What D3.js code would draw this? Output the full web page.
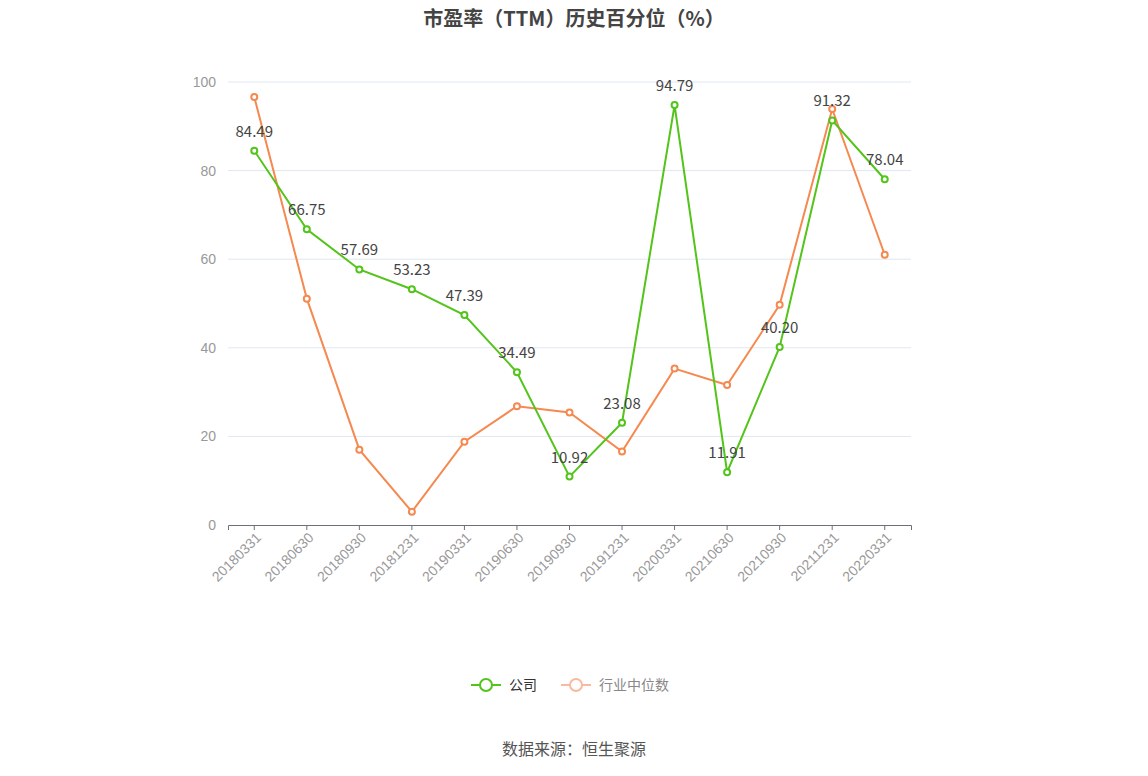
<!DOCTYPE html>
<html><head><meta charset="utf-8">
<script src="https://cdn.jsdelivr.net/npm/d3@7"></script>
<style>body{margin:0;background:#fff;font-family:"Noto Sans CJK SC","Noto Sans",sans-serif;}</style>
</head><body><div id="chart"></div>
<script>
var categories = ["20180331","20180630","20180930","20181231","20190331","20190630","20190930","20191231","20200331","20200630","20200930","20211231","20220331"];
var company = [84.49,66.75,57.69,53.23,47.39,34.49,10.92,23.08,94.79,11.91,40.20,91.32,78.04];
var industry = [96.6,51.1,17.0,3.0,18.8,26.8,25.4,16.6,35.3,31.6,49.7,93.9,61.0];
categories[9] = "20210630"; categories[10] = "20210930";
var yTicks = [0,20,40,60,80,100];

var W = 1148, H = 776;
var margin = {top: 82, right: 237, bottom: 251, left: 228};
var w = W - margin.left - margin.right, h = H - margin.top - margin.bottom;
var green = "#52c41a", orange = "#f5894f";

var svg = d3.select("#chart").append("svg").attr("width", W).attr("height", H);
svg.append("text").attr("x", W/2).attr("y", 26).attr("text-anchor", "middle")
  .style("font-size", "20px").style("font-weight", "bold").attr("fill", "#444")
  .text("市盈率（TTM）历史百分位（%）");

var g = svg.append("g").attr("transform", "translate(" + margin.left + "," + margin.top + ")");
var x = d3.scaleBand().domain(categories).range([0, w]);
var y = d3.scaleLinear().domain([0, 100]).range([h, 0]);

// grid
g.selectAll(".grid").data(yTicks.slice(1)).enter().append("line")
  .attr("x1", 0).attr("x2", w).attr("y1", y).attr("y2", y)
  .attr("stroke", "#e0e6f1");

var ya = g.append("g").call(d3.axisLeft(y).tickValues(yTicks).tickSize(0).tickPadding(12));
ya.select(".domain").remove();
ya.selectAll("text").attr("fill", "#999").style("font-size", "14px");

var xa = g.append("g").attr("transform", "translate(0," + h + ")")
  .call(d3.axisBottom(x).tickSizeOuter(0).tickSize(5));
xa.select(".domain").attr("stroke", "#6e7079");
xa.selectAll("line").attr("stroke", "#6e7079");
xa.selectAll("text").attr("fill", "#999").style("font-size", "14px")
  .attr("text-anchor", "end").attr("dx", "-0.3em").attr("dy", "0.5em")
  .attr("transform", "rotate(-45)");

var cx = function(d, i) { return x(categories[i]) + x.bandwidth()/2; };
var line = d3.line().x(function(d, i) { return cx(d, i); }).y(function(d) { return y(d); });

[[industry, orange], [company, green]].forEach(function(s) {
  g.append("path").datum(s[0]).attr("d", line).attr("fill", "none")
    .attr("stroke", s[1]).attr("stroke-width", 2);
  g.selectAll(null).data(s[0]).enter().append("circle")
    .attr("cx", cx).attr("cy", function(d) { return y(d); }).attr("r", 3)
    .attr("fill", "#fff").attr("stroke", s[1]).attr("stroke-width", 2);
});

g.selectAll(".lbl").data(company).enter().append("text")
  .attr("x", cx).attr("y", function(d) { return y(d) - 14; })
  .attr("text-anchor", "middle").attr("fill", "#444").style("font-size", "15px")
  .text(function(d) { return d.toFixed(2); });

// legend
var lg = svg.append("g").attr("transform", "translate(0,685)");
lg.append("line").attr("x1", 471).attr("x2", 501).attr("stroke", green).attr("stroke-width", 2);
lg.append("circle").attr("cx", 486).attr("r", 6).attr("fill", "#fff").attr("stroke", green).attr("stroke-width", 2);
lg.append("text").attr("x", 509).attr("y", 5).style("font-size", "14px").attr("fill", "#333").text("公司");
lg.append("line").attr("x1", 561).attr("x2", 591).attr("stroke", "#f8b9a0").attr("stroke-width", 2);
lg.append("circle").attr("cx", 576).attr("r", 6).attr("fill", "#fff").attr("stroke", "#f8b9a0").attr("stroke-width", 2);
lg.append("text").attr("x", 599).attr("y", 5).style("font-size", "14px").attr("fill", "#888").text("行业中位数");

svg.append("text").attr("x", W/2).attr("y", 755).attr("text-anchor", "middle")
  .style("font-size", "16px").attr("fill", "#555").text("数据来源：恒生聚源");
</script></body></html>
